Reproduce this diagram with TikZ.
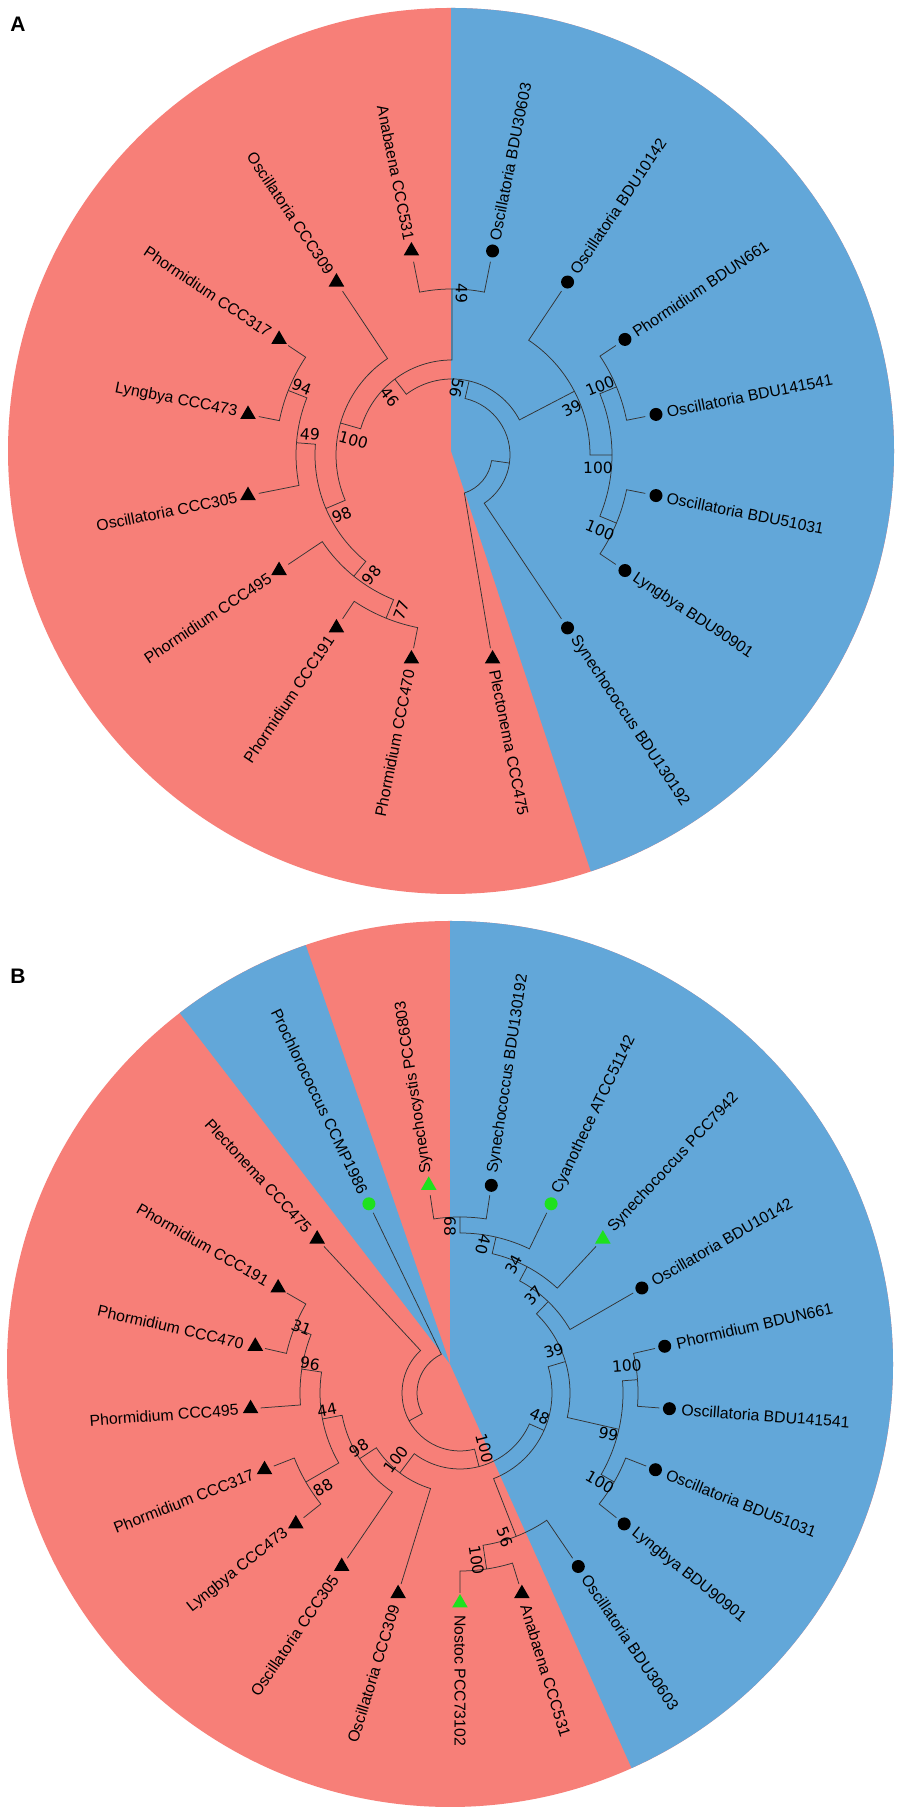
\documentclass[tikz,border=0pt]{standalone}
\usepackage{fontspec}
\setmainfont{Liberation Sans}
\newfontfamily\bsfont{DejaVu Sans}
\usetikzlibrary{shapes.geometric}
\definecolor{redc}{RGB}{247,127,120}
\definecolor{bluec}{RGB}{98,167,217}
\definecolor{grn}{RGB}{30,225,30}
\newcommand\Tbranch[4]{\draw[br] (#2:#1pt) arc[start angle=#2,end angle=#3,radius=#1pt] -- (#3:#4pt);}
\begin{document}
\begin{tikzpicture}[x=1pt,y=1pt,
  br/.style={line width=0.75pt,draw=black!80},
  lab/.style={font=\fontsize{15.8}{18}\selectfont,inner sep=0pt},
  bs/.style={font=\bsfont\fontsize{15.5}{17}\selectfont,inner sep=0pt},
  mk-c/.style={circle,fill=black,minimum size=13pt,inner sep=0pt},
  mk-gc/.style={circle,fill=grn,minimum size=13pt,inner sep=0pt},
  mk-t/.style={regular polygon,regular polygon sides=3,fill=black,minimum size=18pt,inner sep=0pt},
  mk-gt/.style={regular polygon,regular polygon sides=3,fill=grn,minimum size=18pt,inner sep=0pt}]
\useasboundingbox (0,0) rectangle (900,1819);
\fill[white] (0,0) rectangle (900,1819);
% ---------- pies ----------
\coordinate (CA) at (451,1368);
\coordinate (CB) at (450,455);
\fill[redc] (CA) circle[radius=443pt];
\fill[bluec] (CA) -- ++(90:443pt) arc[start angle=90,end angle=-71.6,radius=443pt] -- cycle;
\fill[redc] (CB) circle[radius=443pt];
\fill[bluec] (CB) -- ++(90:443pt) arc[start angle=90,end angle=-65.8,radius=443pt] -- cycle;
\fill[bluec] (CB) -- ++(109:443pt) arc[start angle=109,end angle=127.6,radius=443pt] -- cycle;
\node[font=\bfseries\fontsize{21}{22}\selectfont,inner sep=0pt] (labA) at (18,1795) {A};
\node[font=\bfseries\fontsize{21}{22}\selectfont,inner sep=0pt] (labB) at (18,843) {B};
% ---------- tree A ----------
\begin{scope}[shift={(452,1364)}]
\coordinate (TA) at (0,0);
\draw[br] (-8:40pt) arc[start angle=-8,end angle=-72,radius=40pt] -- (-78.75:197pt);
\Tbranch{40}{-8}{-8}{58}
\Tbranch{58}{-8}{77}{76}
\Tbranch{58}{-8}{-56.25}{197}
\Tbranch{76}{77}{127}{95}
\Tbranch{76}{77}{27.5}{138}
\Tbranch{95}{127}{90}{166}
\Tbranch{95}{127}{164}{116}
\Tbranch{166}{90}{101.25}{197}
\Tbranch{166}{90}{78.75}{197}
\Tbranch{116}{164}{123.75}{197}
\Tbranch{116}{164}{203}{137}
\Tbranch{137}{203}{175.5}{156}
\Tbranch{137}{203}{231}{156}
\Tbranch{156}{175.5}{158.5}{176}
\Tbranch{156}{175.5}{191.25}{197}
\Tbranch{176}{158.5}{146.25}{197}
\Tbranch{176}{158.5}{168.75}{197}
\Tbranch{156}{231}{213.75}{197}
\Tbranch{156}{231}{248}{176}
\Tbranch{176}{248}{236.25}{197}
\Tbranch{176}{248}{258.75}{197}
\Tbranch{138}{27.5}{56.25}{197}
\Tbranch{138}{27.5}{0}{160}
\Tbranch{160}{0}{22.5}{178}
\Tbranch{160}{0}{-22.5}{178}
\Tbranch{178}{22.5}{33.75}{197}
\Tbranch{178}{22.5}{11.25}{197}
\Tbranch{178}{-22.5}{-11.25}{197}
\Tbranch{178}{-22.5}{-33.75}{197}
\foreach \ang/\txt/\mk [count=\i] in {
 78.75/Oscillatoria BDU30603/c, 56.25/Oscillatoria BDU10142/c,
 33.75/Phormidium BDUN661/c, 11.25/Oscillatoria BDU141541/c,
 -11.25/Oscillatoria BDU51031/c, -33.75/Lyngbya BDU90901/c,
 -56.25/Synechococcus BDU130192/c, -78.75/Plectonema CCC475/t,
 -101.25/Phormidium CCC470/t, -123.75/Phormidium CCC191/t,
 -146.25/Phormidium CCC495/t, -168.75/Oscillatoria CCC305/t,
 168.75/Lyngbya CCC473/t, 146.25/Phormidium CCC317/t,
 123.75/Oscillatoria CCC309/t, 101.25/Anabaena CCC531/t}{
  \pgfmathsetmacro\cs{cos(\ang)}
  \node[mk-\mk] (A-m\i) at (\ang:208pt) {};
  \ifdim \cs pt < -0.174pt
    \pgfmathsetmacro\rot{\ang+180}
    \node[lab,rotate=\rot,anchor=east] (A-l\i) at (\ang:219pt) {\txt};
  \else
    \node[lab,rotate=\ang,anchor=west] (A-l\i) at (\ang:219pt) {\txt};
  \fi
}
\foreach \ang/\r/\rot/\t [count=\i] in {
 86.6/162/-90/49, 86/66.9/-103/56, 136.8/85.1/-53/46, 171.4/99.8/-16/100,
 208.5/125.6/23/98, 236.2/144.4/51/98, 252/163/67.5/77, 171.7/143.5/-4.5/49,
 155.6/165/-21/94, 21.3/128.5/27.5/39, 25/163.3/22.5/100, -5.2/146.6/0/100,
 -26.9/166/-22.5/100}{
  \node[bs,rotate=\rot] (A-b\i) at (\ang:\r pt) {\t};
}
\end{scope}
% ---------- tree B ----------
\begin{scope}[shift={(460,426)}]
\coordinate (TB) at (0,0);
\Tbranch{43}{162.2}{115.71}{200}
\Tbranch{43}{162.2}{208.7}{58}
\Tbranch{58}{208.7}{132.86}{200}
\Tbranch{58}{208.7}{284.5}{76}
\Tbranch{76}{284.5}{233}{100}
\Tbranch{76}{284.5}{336}{92}
\Tbranch{92}{-24}{16.6}{110}
\Tbranch{92}{-24}{-68.6}{154}
\Tbranch{110}{16.6}{46}{127}
\Tbranch{110}{16.6}{-12.86}{163}
\Tbranch{127}{46}{62}{143}
\Tbranch{127}{46}{30}{200}
\Tbranch{143}{62}{77}{160}
\Tbranch{143}{62}{47.14}{200}
\Tbranch{160}{77}{90}{176}
\Tbranch{160}{77}{64.29}{200}
\Tbranch{176}{90}{98.57}{200}
\Tbranch{176}{90}{81.43}{200}
\Tbranch{163}{-12.86}{4.29}{178}
\Tbranch{163}{-12.86}{-30}{178}
\Tbranch{178}{4.29}{12.86}{200}
\Tbranch{178}{4.29}{-4.29}{200}
\Tbranch{178}{-30}{-21.43}{200}
\Tbranch{178}{-30}{-38.57}{200}
\Tbranch{154}{-68.6}{-55.71}{200}
\Tbranch{154}{-68.6}{-81.4}{178}
\Tbranch{178}{-81.4}{-72.86}{200}
\Tbranch{178}{-81.4}{-90}{200}
\Tbranch{100}{233}{213.2}{120}
\Tbranch{100}{233}{252.86}{200}
\Tbranch{120}{213.2}{190.7}{140}
\Tbranch{120}{213.2}{235.71}{200}
\Tbranch{140}{190.7}{171.4}{160}
\Tbranch{140}{190.7}{210}{178}
\Tbranch{160}{171.4}{158.57}{178}
\Tbranch{160}{171.4}{184.29}{200}
\Tbranch{178}{158.57}{150}{200}
\Tbranch{178}{158.57}{167.14}{200}
\Tbranch{178}{210}{201.43}{200}
\Tbranch{178}{210}{218.57}{200}
\foreach \ang/\txt/\mk [count=\i] in {
 81.43/Synechococcus BDU130192/c, 64.29/Cyanothece ATCC51142/gc,
 47.14/Synechococcus PCC7942/gt, 30/Oscillatoria BDU10142/c,
 12.86/Phormidium BDUN661/c, -4.29/Oscillatoria BDU141541/c,
 -21.43/Oscillatoria BDU51031/c, -38.57/Lyngbya BDU90901/c,
 -55.71/Oscillatoria BDU30603/c, -72.86/Anabaena CCC531/t,
 -90/Nostoc PCC73102/gt, -107.14/Oscillatoria CCC309/t,
 -124.29/Oscillatoria CCC305/t, -141.43/Lyngbya CCC473/t,
 -158.57/Phormidium CCC317/t, -175.71/Phormidium CCC495/t,
 167.14/Phormidium CCC470/t, 150/Phormidium CCC191/t,
 132.86/Plectonema CCC475/t, 115.71/Prochlorococcus CCMP1986/gc,
 98.57/Synechocystis PCC6803/gt}{
  \pgfmathsetmacro\cs{cos(\ang)}
  \node[mk-\mk] (B-m\i) at (\ang:210pt) {};
  \ifdim \cs pt < -0.174pt
    \pgfmathsetmacro\rot{\ang+180}
    \node[lab,rotate=\rot,anchor=east] (B-l\i) at (\ang:222pt) {\txt};
  \else
    \node[lab,rotate=\ang,anchor=west] (B-l\i) at (\ang:222pt) {\txt};
  \fi
}
\foreach \ang/\r/\rot/\t [count=\i] in {
 93.4/166.6/-90/68, 81/150/-103/40, 67.3/139.3/62/34, 52.7/122/46/37,
 24.3/103/16.6/39, -16.5/83/-24/48, -65.6/60.4/-75.5/100, -15.4/154/-12.9/99,
 9.2/169/4.3/100, -32.6/166/-30/100, -72.6/151/-68.6/56, -84.4/168/-81.4/100,
 226.2/92.3/53/100, 208.5/115.2/33.2/98, 187.2/134/10.7/44, 169/152.8/-8.6/96,
 157.6/171.5/-21.4/31, 214.7/166.7/30/88}{
  \node[bs,rotate=\rot] (B-b\i) at (\ang:\r pt) {\t};
}
\end{scope}
\end{tikzpicture}
\end{document}
